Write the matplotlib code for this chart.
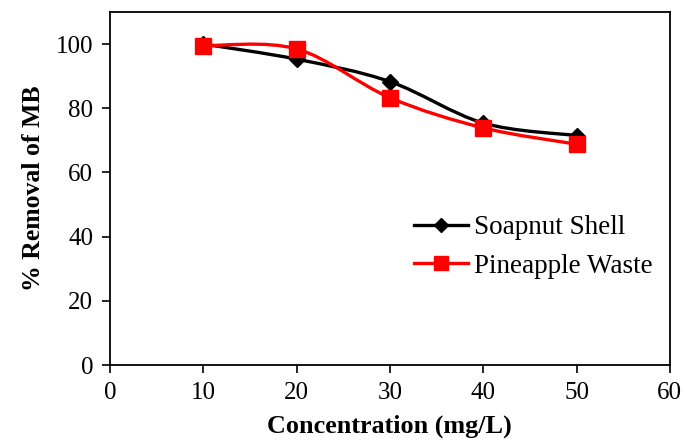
import matplotlib.pyplot as plt
from matplotlib.path import Path
from matplotlib.patches import PathPatch
from matplotlib.lines import Line2D

concentration = [10, 20, 30, 40, 50]
soapnut = [100.0, 95.3, 88.3, 75.4, 71.5]
pineapple = [99.5, 98.5, 83.3, 73.9, 68.8]

plt.rcParams['font.family'] = ['Liberation Serif', 'DejaVu Serif']


def smooth_path(xs, ys):
    # Excel-like smoothed line: Catmull-Rom as cubic Bezier segments
    pts = list(zip(xs, ys))
    verts = [pts[0]]
    codes = [Path.MOVETO]
    n = len(pts)
    for i in range(n - 1):
        p0 = pts[i - 1] if i > 0 else pts[i]
        p1 = pts[i]
        p2 = pts[i + 1]
        p3 = pts[i + 2] if i + 2 < n else pts[i + 1]
        c1 = (p1[0] + (p2[0] - p0[0]) / 6, p1[1] + (p2[1] - p0[1]) / 6)
        c2 = (p2[0] - (p3[0] - p1[0]) / 6, p2[1] - (p3[1] - p1[1]) / 6)
        verts += [c1, c2, p2]
        codes += [Path.CURVE4] * 3
    return Path(verts, codes)


fig = plt.figure(figsize=(6.87, 4.43), dpi=100)
ax = fig.add_axes([0.160, 0.176, 0.815, 0.797])

ax.add_patch(PathPatch(smooth_path(concentration, soapnut), facecolor='none',
                       edgecolor='black', lw=2.4, zorder=2))
ax.plot(concentration, soapnut, linestyle='none', marker='D', color='black',
        markersize=8, zorder=3)
ax.add_patch(PathPatch(smooth_path(concentration, pineapple), facecolor='none',
                       edgecolor='#ff0000', lw=2.4, zorder=4))
ax.plot(concentration, pineapple, linestyle='none', marker='s', color='#ff0000',
        markersize=11, zorder=5)

ax.set_xlim(0, 60)
ax.set_ylim(0, 110)
ax.set_xticks(range(0, 61, 10))
ax.set_yticks(range(0, 101, 20))
ax.tick_params(direction='out', length=6, width=1.2, labelsize=18, pad=6)
for s in ax.spines.values():
    s.set_linewidth(1.3)

ax.set_xlabel('Concentration (mg/L)', fontsize=18.8, fontweight='bold', labelpad=8)
ax.set_ylabel('% Removal of MB', fontsize=18.5, fontweight='bold', labelpad=8)

handles = [
    Line2D([], [], color='black', lw=2.4, marker='D', markersize=7),
    Line2D([], [], color='#ff0000', lw=2.4, marker='s', markersize=10),
]
ax.legend(handles, ['Soapnut Shell', 'Pineapple Waste'], frameon=False,
          fontsize=19.5, loc='center left', bbox_to_anchor=(0.50, 0.334),
          handlelength=2.0, handletextpad=0.2, labelspacing=0.5)

fig.savefig('out.png', dpi=100)
